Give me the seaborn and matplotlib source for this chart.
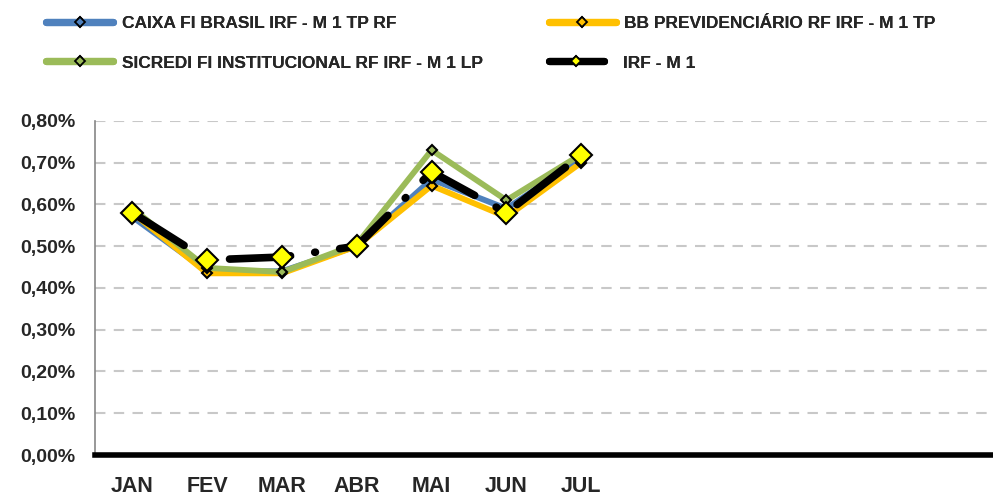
import matplotlib
matplotlib.use("Agg")
import matplotlib.pyplot as plt
import seaborn as sns
import pandas as pd
import numpy as np
from matplotlib.lines import Line2D

sns.set_theme(style="white")
plt.rcParams['font.family'] = ['Liberation Sans', 'DejaVu Sans']
plt.rcParams['font.weight'] = 'bold'

months_all = ["JAN", "FEV", "MAR", "ABR", "MAI", "JUN", "JUL", "", "", "", "", ""]
months = ["JAN", "FEV", "MAR", "ABR", "MAI", "JUN", "JUL"]
caixa = [0.57, 0.44, 0.44, 0.50, 0.66, 0.59, 0.71]
bb = [0.58, 0.435, 0.435, 0.50, 0.645, 0.57, 0.70]
sicredi = [0.59, 0.448, 0.438, 0.505, 0.73, 0.61, 0.72]
irf = [0.58, 0.467, 0.474, 0.50, 0.678, 0.58, 0.718]
names = ["CAIXA FI BRASIL IRF - M 1 TP RF", "BB PREVIDENCIÁRIO RF IRF - M 1 TP",
         "SICREDI FI INSTITUCIONAL RF IRF - M 1 LP", "IRF - M 1"]
yticks = [0.0, 0.1, 0.2, 0.3, 0.4, 0.5, 0.6, 0.7, 0.8]

fig = plt.figure(figsize=(9.93, 4.98), dpi=100)
ax = fig.add_axes([0.0957, 0.0863, 0.904, 0.671])

x = np.arange(len(months))
styles = [
    dict(color="#4F81BD", lw=4.2, ms=5.5, mfc="#4F81BD", ls="-"),
    dict(color="#FFC000", lw=4.2, ms=5.5, mfc="#FFC000", ls="-"),
    dict(color="#9BBB59", lw=4.2, ms=5.5, mfc="#9BBB59", ls="-"),
    dict(color="black", lw=5.5, ms=11, mfc="#FFFF00", ls=(0, (8, 3.2, 0.1, 3.2))),
]
series = [caixa, bb, sicredi, irf]
for vals, name, st in zip(series, names, styles):
    df = pd.DataFrame({"x": x, "y": vals})
    sns.lineplot(data=df, x="x", y="y", ax=ax, color=st["color"], linewidth=st["lw"],
                 linestyle=st["ls"], marker="D", markersize=st["ms"],
                 markerfacecolor=st["mfc"], markeredgecolor="black", markeredgewidth=1.5,
                 dash_capstyle="round", solid_capstyle="round", legend=False, zorder=3)

ax.set_xlim(-0.5, 11.5)
ax.set_ylim(0, 0.8)
ax.set_yticks(yticks)
ax.set_yticklabels([f"{v:.2f}%".replace(".", ",") for v in yticks], fontsize=14, fontweight="bold")
ax.set_xticks(np.arange(12))
ax.set_xticklabels(months_all, fontsize=15.5, fontweight="bold")
ax.set_xticks(np.arange(-0.5, 12, 1), minor=True)
ax.tick_params(axis="x", which="major", length=0, pad=15)
ax.tick_params(axis="x", which="minor", length=5, width=2.5, color="black", direction="out")
ax.tick_params(axis="y", length=6, width=1, color="#868686", direction="inout", pad=11)
ax.set_xlabel("")
ax.set_ylabel("")
for v in yticks[1:]:
    ax.axhline(v, color="#C8C8C8", lw=1.5, ls=(0, (5, 4)), zorder=1)
for s in ["top", "right"]:
    ax.spines[s].set_visible(False)
ax.spines["left"].set_color("#868686")
ax.spines["left"].set_linewidth(1.2)
ax.spines["bottom"].set_color("black")
ax.spines["bottom"].set_linewidth(4)
ax.spines["bottom"].set_zorder(4)

# legend: four single-entry legends placed like the reference grid
pos = [(0.0468, 0.9538, 3.86, 0.5), (0.5524, 0.9538, 3.86, 0.5),
       (0.0468, 0.8735, 3.86, 0.5), (0.5524, 0.8735, 3.2, 1.1)]
for name, st, (lx, ly, hl, tp) in zip(names, styles, pos):
    h = Line2D([0], [0], color=st["color"], lw=5.2, solid_capstyle="round",
               marker="D", markersize=5.5, markerfacecolor=st["mfc"],
               markeredgecolor="black", markeredgewidth=1.3, label=name)
    lg = fig.legend(handles=[h], loc="center left", bbox_to_anchor=(lx, ly),
                    frameon=False, prop=dict(size=12.5, weight="bold"),
                    handlelength=hl, handletextpad=tp, borderpad=0, borderaxespad=0)
    fig.add_artist(lg)

fig.savefig("out.png", dpi=100)
